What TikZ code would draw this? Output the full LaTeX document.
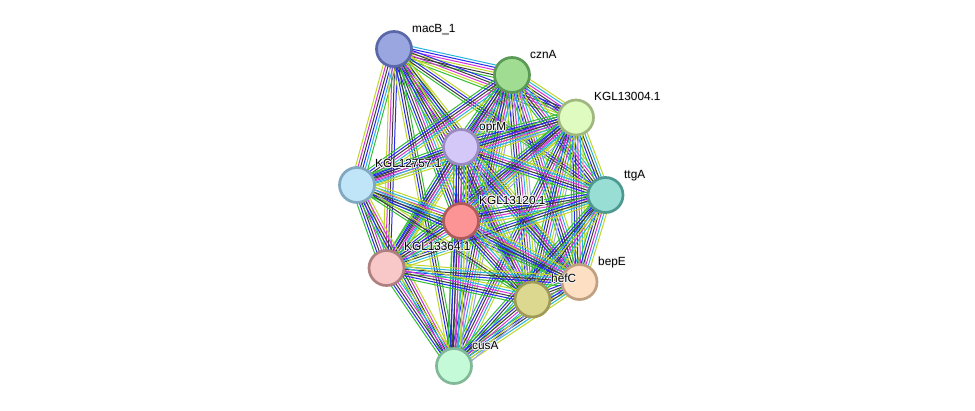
\documentclass[tikz,border=0pt]{standalone}
\usepackage{fontspec}
\setmainfont{Liberation Sans}
\usetikzlibrary{calc}
\pgfdeclarelayer{background}
\pgfsetlayers{background,main}
\definecolor{cG}{RGB}{52,190,52}
\definecolor{cB}{RGB}{40,40,245}
\definecolor{cK}{RGB}{60,60,60}
\definecolor{cM}{RGB}{214,50,214}
\definecolor{cC}{RGB}{40,180,220}
\definecolor{cY}{RGB}{190,215,40}
\definecolor{cL}{RGB}{160,160,245}
\definecolor{halo}{RGB}{246,246,246}
\definecolor{fA}{RGB}{154,166,224}\definecolor{dA}{RGB}{90,103,168}
\definecolor{fB}{RGB}{160,221,146}\definecolor{dB}{RGB}{90,154,85}
\definecolor{fC}{RGB}{224,251,192}\definecolor{dC}{RGB}{160,184,128}
\definecolor{fD}{RGB}{212,200,248}\definecolor{dD}{RGB}{154,140,192}
\definecolor{fE}{RGB}{192,228,248}\definecolor{dE}{RGB}{128,168,192}
\definecolor{fF}{RGB}{152,222,212}\definecolor{dF}{RGB}{77,152,144}
\definecolor{fG}{RGB}{252,148,150}\definecolor{dG}{RGB}{176,90,92}
\definecolor{fH}{RGB}{248,200,200}\definecolor{dH}{RGB}{176,128,128}
\definecolor{fI}{RGB}{253,224,196}\definecolor{dI}{RGB}{192,160,128}
\definecolor{fJ}{RGB}{220,216,144}\definecolor{dJ}{RGB}{160,154,88}
\definecolor{fK}{RGB}{196,250,216}\definecolor{dK}{RGB}{128,184,152}
\newcommand\hcp[3]{\rlap{\hspace*{#1}\raisebox{#2}{\textcolor{halo}{#3}}}}
\newcommand\halo[1]{\hcp{0.9pt}{0pt}{#1}\hcp{-0.9pt}{0pt}{#1}\hcp{0pt}{0.9pt}{#1}\hcp{0pt}{-0.9pt}{#1}%
  \hcp{0.65pt}{0.65pt}{#1}\hcp{-0.65pt}{0.65pt}{#1}\hcp{0.65pt}{-0.65pt}{#1}\hcp{-0.65pt}{-0.65pt}{#1}#1}
\tikzset{
  circ/.style={circle, minimum size=35pt, inner sep=0pt, line width=2.7pt},
  lab/.style={anchor=base west, font=\fontsize{11.8}{13}\selectfont, inner sep=0pt, text=black},
  eline/.style={line width=1pt}
}
\newcommand\bund[4]{%
  \foreach [count=\i] \c in {#4} {
    \pgfmathsetmacro\off{(\i-(#3+1)/2)*2.5}
    \draw[eline, \c] ($(#1)!\off pt!90:(#2)$) -- ($(#2)!\off pt!-90:(#1)$);
  }}
\begin{document}
\begin{tikzpicture}[x=1pt,y=-1pt]
\useasboundingbox (0,0) rectangle (975,411);
% nodes
\node[circ, fill=fA, draw=dA] (A) at (394,49) {};
\node[circ, fill=fB, draw=dB] (B) at (512,75) {};
\node[circ, fill=fC, draw=dC] (C) at (576,117.5) {};
\node[circ, fill=fD, draw=dD] (D) at (461,147) {};
\node[circ, fill=fE, draw=dE] (E) at (357,185) {};
\node[circ, fill=fF, draw=dF] (F) at (605.5,195) {};
\node[circ, fill=fG, draw=dG] (G) at (461,221) {};
\node[circ, fill=fH, draw=dH] (H) at (386.5,268) {};
\node[circ, fill=fI, draw=dI] (I) at (579.5,282) {};
\node[circ, fill=fJ, draw=dJ] (J) at (532.5,299.5) {};
\node[circ, fill=fK, draw=dK] (K) at (454,366) {};
% labels
\node[lab] (Al) at (412,32.5) {\halo{macB\_1}};
\node[lab] (Bl) at (530,58.5) {\halo{cznA}};
\node[lab] (Cl) at (594,101) {\halo{KGL13004.1}};
\node[lab] (Dl) at (479,130.5) {\halo{oprM}};
\node[lab] (El) at (375,168) {\halo{KGL12757.1}};
\node[lab] (Fl) at (624,178.5) {\halo{ttgA}};
\node[lab] (Gl) at (479,204.5) {\halo{KGL13120.1}};
\node[lab] (Hl) at (404,251) {\halo{KGL13364.1}};
\node[lab] (Il) at (598,265.5) {\halo{bepE}};
\node[lab] (Jl) at (551,283) {\halo{hefC}};
\node[lab] (Kl) at (472,349.5) {\halo{cusA}};
% edges
\begin{pgfonlayer}{background}
\fill[white] (0,0) rectangle (975,411);
\bund{A}{B}{6}{cG,cK,cY,cM,cB,cC}
\bund{A}{C}{5}{cG,cY,cM,cK,cB}
\bund{A}{D}{6}{cG,cB,cK,cM,cC,cY}
\bund{A}{E}{6}{cY,cM,cK,cB,cC,cG}
\bund{A}{F}{4}{cG,cK,cB,cY}
\bund{A}{G}{6}{cG,cB,cK,cM,cC,cY}
\bund{A}{H}{4}{cY,cM,cK,cB}
\bund{A}{I}{4}{cG,cB,cK,cY}
\bund{A}{J}{5}{cG,cB,cK,cM,cY}
\bund{A}{K}{4}{cY,cB,cK,cG}
\bund{B}{C}{6}{cG,cB,cK,cM,cC,cY}
\bund{B}{D}{7}{cG,cB,cK,cM,cC,cY,cL}
\bund{B}{E}{6}{cG,cB,cK,cM,cC,cY}
\bund{B}{F}{6}{cG,cB,cK,cM,cC,cY}
\bund{B}{G}{7}{cG,cB,cK,cM,cC,cY,cL}
\bund{B}{H}{6}{cG,cB,cK,cM,cC,cY}
\bund{B}{I}{6}{cG,cB,cK,cM,cC,cY}
\bund{B}{J}{7}{cG,cB,cK,cM,cC,cY,cL}
\bund{B}{K}{7}{cG,cB,cK,cM,cC,cY,cL}
\bund{C}{D}{7}{cG,cB,cK,cM,cC,cY,cL}
\bund{C}{E}{6}{cG,cB,cK,cM,cC,cY}
\bund{C}{F}{5}{cG,cB,cK,cC,cY}
\bund{C}{G}{7}{cG,cB,cK,cM,cC,cY,cL}
\bund{C}{H}{6}{cG,cB,cK,cM,cC,cY}
\bund{C}{I}{6}{cG,cB,cK,cM,cC,cY}
\bund{C}{J}{7}{cG,cB,cK,cM,cC,cY,cL}
\bund{C}{K}{6}{cG,cB,cK,cM,cC,cY}
\bund{D}{E}{6}{cG,cB,cK,cM,cC,cY}
\bund{D}{F}{6}{cG,cB,cK,cM,cC,cY}
\bund{D}{G}{7}{cG,cB,cK,cM,cC,cY,cL}
\bund{D}{H}{6}{cG,cB,cK,cM,cC,cY}
\bund{D}{I}{6}{cG,cB,cK,cM,cC,cY}
\bund{D}{J}{7}{cG,cB,cK,cM,cC,cY,cL}
\bund{D}{K}{6}{cG,cB,cK,cM,cC,cY}
\bund{E}{G}{6}{cG,cB,cK,cM,cC,cY}
\bund{E}{H}{6}{cG,cB,cK,cM,cC,cY}
\bund{E}{I}{5}{cG,cB,cK,cC,cY}
\bund{E}{J}{3}{cG,cK,cY}
\bund{E}{K}{5}{cG,cB,cK,cM,cY}
\bund{F}{G}{6}{cG,cB,cK,cM,cC,cY}
\bund{F}{H}{5}{cG,cB,cK,cC,cY}
\bund{F}{I}{6}{cG,cB,cK,cM,cC,cY}
\bund{F}{J}{6}{cG,cB,cK,cM,cC,cY}
\bund{F}{K}{5}{cG,cB,cK,cC,cY}
\bund{G}{H}{6}{cG,cB,cK,cM,cC,cY}
\bund{G}{I}{6}{cG,cB,cK,cM,cC,cY}
\bund{G}{J}{7}{cG,cB,cK,cM,cC,cY,cL}
\bund{G}{K}{7}{cG,cB,cK,cM,cC,cY,cL}
\bund{H}{I}{5}{cG,cB,cK,cC,cY}
\bund{H}{J}{6}{cG,cB,cK,cM,cC,cY}
\bund{H}{K}{6}{cG,cB,cK,cM,cC,cY}
\bund{I}{J}{6}{cG,cB,cK,cM,cC,cY}
\bund{I}{K}{5}{cG,cB,cK,cC,cY}
\bund{J}{K}{7}{cG,cB,cK,cM,cC,cY,cL}
\end{pgfonlayer}
\end{tikzpicture}
\end{document}
